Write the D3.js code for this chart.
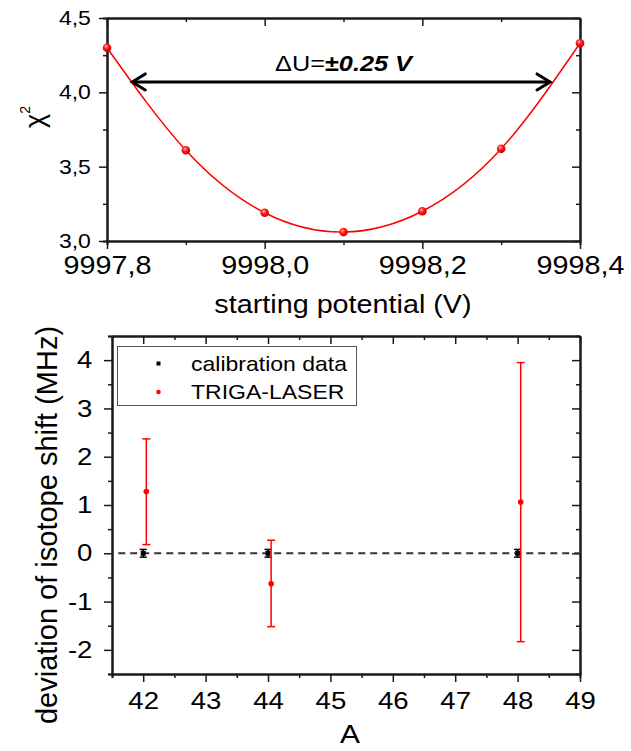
<!DOCTYPE html>
<meta charset="utf-8">
<script src="https://d3js.org/d3.v7.min.js"></script>
<style>
  body { margin: 0; background: #fff; }
  text { font-family: "Liberation Sans", Arial, sans-serif; fill: #000; }
</style>
<div id="my_dataviz"></div>
<script>

// ---- top panel: chi^2 vs starting potential
var potential = [9997.8, 9997.9, 9998.0, 9998.1, 9998.2, 9998.3, 9998.4];
var chi2      = [4.30, 3.61, 3.19, 3.06, 3.20, 3.62, 4.33];
var potTicks  = [9997.8, 9998.0, 9998.2, 9998.4];
var potMinor  = [9997.9, 9998.1, 9998.3];
var chiTicks  = [3.0, 3.5, 4.0, 4.5];
var chiMinor  = [3.25, 3.75, 4.25];
var arrowPot  = [9997.832, 9998.362];
var arrowChi  = 4.07;

// ---- bottom panel: deviation of isotope shift
var calibA    = [42, 44, 48];
var calibDev  = [0, 0, 0];
var calibErr  = [0.08, 0.08, 0.08];
var trigaA    = [42.05, 44.05, 48.05];
var trigaDev  = [1.28, -0.63, 1.06];
var trigaLow  = [0.18, -1.52, -1.83];
var trigaHigh = [2.37, 0.27, 3.95];
var aTicks    = [42, 43, 44, 45, 46, 47, 48, 49];
var aMinor    = [41.5, 42.5, 43.5, 44.5, 45.5, 46.5, 47.5, 48.5];
var devTicks  = [-2, -1, 0, 1, 2, 3, 4];
var devMinor  = [-2.5, -1.5, -0.5, 0.5, 1.5, 2.5, 3.5, 4.5];

var SX = 1.15; // the picture's text is a bit wider than tall

var svg = d3.select("#my_dataviz")
  .append("svg")
    .attr("width", 631)
    .attr("height", 751);

var defs = svg.append("defs");
var grad = defs.append("radialGradient").attr("id", "ball")
  .attr("cx", "40%").attr("cy", "35%").attr("r", "65%");
grad.append("stop").attr("offset", "0%").attr("stop-color", "#ffb0b0");
grad.append("stop").attr("offset", "45%").attr("stop-color", "#ff1a1a");
grad.append("stop").attr("offset", "100%").attr("stop-color", "#c00000");

function comma(f) {
  return function(d) { return d3.format(f)(d).replace(".", ","); };
}

// frame with outward labelled ticks on left/bottom and inward mirror ticks top/right
function frame(x, y, xt, xm, yt, ym, fx, fy, sizeX, sizeY, padX, padY) {
  var x0 = x.range()[0], x1 = x.range()[1], y0 = y.range()[0], y1 = y.range()[1];
  var g = svg.append("g");

  var bx = g.append("g").attr("transform", "translate(0," + y0 + ")")
    .call(d3.axisBottom(x).tickValues(xt).tickSize(8).tickSizeOuter(0).tickPadding(padX).tickFormat(fx));
  bx.selectAll("text").style("font-size", sizeX + "px").attr("transform", "scale(" + SX + ",1)");
  g.append("g").attr("transform", "translate(0," + y0 + ")")
    .call(d3.axisBottom(x).tickValues(xm).tickSize(4).tickFormat(""));

  var ly = g.append("g").attr("transform", "translate(" + x0 + ",0)")
    .call(d3.axisLeft(y).tickValues(yt).tickSize(8).tickSizeOuter(0).tickPadding(padY).tickFormat(fy));
  ly.selectAll("text").style("font-size", sizeY + "px").attr("transform", "scale(" + SX + ",1)");
  g.append("g").attr("transform", "translate(" + x0 + ",0)")
    .call(d3.axisLeft(y).tickValues(ym).tickSize(4).tickFormat(""));

  g.append("g").attr("transform", "translate(0," + y1 + ")")
    .call(d3.axisTop(x).tickValues(xt).tickSize(-8).tickSizeOuter(0).tickFormat(""));
  g.append("g").attr("transform", "translate(0," + y1 + ")")
    .call(d3.axisTop(x).tickValues(xm).tickSize(-4).tickSizeOuter(0).tickFormat(""));
  g.append("g").attr("transform", "translate(" + x1 + ",0)")
    .call(d3.axisRight(y).tickValues(yt).tickSize(-8).tickSizeOuter(0).tickFormat(""));
  g.append("g").attr("transform", "translate(" + x1 + ",0)")
    .call(d3.axisRight(y).tickValues(ym).tickSize(-4).tickSizeOuter(0).tickFormat(""));

  g.selectAll(".domain").attr("stroke", "#1a1a1a").attr("stroke-width", 2);
  g.selectAll(".tick line").attr("stroke", "#1a1a1a").attr("stroke-width", 1.5);
  return g;
}

function label(txt, px, py, size) {
  return svg.append("text")
    .attr("transform", "translate(" + px + "," + py + ") scale(" + SX + ",1)")
    .attr("text-anchor", "middle")
    .style("font-size", size + "px")
    .text(txt);
}

// ================= TOP =================
var x1 = d3.scaleLinear().domain([9997.8, 9998.4]).range([107, 580]);
var y1 = d3.scaleLinear().domain([3.0, 4.5]).range([241, 18]);

frame(x1, y1, potTicks, potMinor, chiTicks, chiMinor, comma(".1f"), comma(".1f"), 25, 20, 7, 6);

var pts = potential.map(function(d, i) { return [d, chi2[i]]; });

svg.append("path")
  .datum(pts)
  .attr("fill", "none")
  .attr("stroke", "#ff0000")
  .attr("stroke-width", 1.5)
  .attr("d", d3.line()
    .x(function(d) { return x1(d[0]); })
    .y(function(d) { return y1(d[1]); })
    .curve(d3.curveNatural));

svg.selectAll("ball")
  .data(pts)
  .enter()
  .append("circle")
    .attr("cx", function(d) { return x1(d[0]); })
    .attr("cy", function(d) { return y1(d[1]); })
    .attr("r", 4.3)
    .attr("fill", "url(#ball)");

// double arrow
var ax0 = x1(arrowPot[0]), ax1 = x1(arrowPot[1]), ay = y1(arrowChi);
svg.append("line")
  .attr("x1", ax0 + 1).attr("x2", ax1 - 1).attr("y1", ay).attr("y2", ay)
  .attr("stroke", "#000").attr("stroke-width", 3);
svg.append("path")
  .attr("d", "M" + (ax0 + 13) + "," + (ay - 8) + "L" + ax0 + "," + ay + "L" + (ax0 + 13) + "," + (ay + 8) +
             "M" + (ax1 - 13) + "," + (ay - 8) + "L" + ax1 + "," + ay + "L" + (ax1 - 13) + "," + (ay + 8))
  .attr("fill", "none").attr("stroke", "#000").attr("stroke-width", 3)
  .attr("stroke-linejoin", "miter").attr("stroke-linecap", "round");

var ann = svg.append("text")
  .attr("transform", "translate(" + x1(9998.1) + "," + (y1(arrowChi) - 11) + ") scale(" + SX + ",1)")
  .attr("text-anchor", "middle")
  .style("font-size", "22px");
ann.append("tspan").text("\u0394U=");
ann.append("tspan").style("font-weight", "bold").text("\u00b1");
ann.append("tspan").style("font-weight", "bold").style("font-style", "italic").text("0.25 V");

// axis titles
label("starting potential (V)", 343, 313, 25);

var chiLab = svg.append("text")
  .attr("transform", "translate(44,117) rotate(-90)")
  .attr("text-anchor", "middle")
  .style("font-size", "27px");
chiLab.append("tspan").text("\u03c7");
chiLab.append("tspan").attr("dy", -14).style("font-size", "14px").text("2");

// ================= BOTTOM =================
var x2 = d3.scaleLinear().domain([41.5, 49]).range([112, 580]);
var y2 = d3.scaleLinear().domain([-2.5, 4.5]).range([674, 336]);

frame(x2, y2, aTicks, aMinor, devTicks, devMinor, function(d) { return String(d); },
      function(d) { return String(d); }, 24, 24, 10, 9);

// zero reference
svg.append("line")
  .attr("x1", x2(41.6)).attr("x2", x2(49))
  .attr("y1", y2(0)).attr("y2", y2(0))
  .attr("stroke", "#333").attr("stroke-width", 2)
  .attr("stroke-dasharray", "7,5");

// calibration data (black)
calibA.forEach(function(a, i) {
  var cx = x2(a), lo = y2(calibDev[i] - calibErr[i]), hi = y2(calibDev[i] + calibErr[i]);
  svg.append("line").attr("x1", cx).attr("x2", cx).attr("y1", lo).attr("y2", hi)
    .attr("stroke", "#000").attr("stroke-width", 1.5);
  [lo, hi].forEach(function(yy) {
    svg.append("line").attr("x1", cx - 3.5).attr("x2", cx + 3.5).attr("y1", yy).attr("y2", yy)
      .attr("stroke", "#000").attr("stroke-width", 1.5);
  });
  svg.append("rect").attr("x", cx - 2.5).attr("y", y2(calibDev[i]) - 2.5)
    .attr("width", 5).attr("height", 5).attr("fill", "#000");
});

// TRIGA-LASER (red)
trigaA.forEach(function(a, i) {
  var cx = x2(a), lo = y2(trigaLow[i]), hi = y2(trigaHigh[i]);
  svg.append("line").attr("x1", cx).attr("x2", cx).attr("y1", lo).attr("y2", hi)
    .attr("stroke", "#ff0000").attr("stroke-width", 1.5);
  [lo, hi].forEach(function(yy) {
    svg.append("line").attr("x1", cx - 4).attr("x2", cx + 4).attr("y1", yy).attr("y2", yy)
      .attr("stroke", "#ff0000").attr("stroke-width", 1.5);
  });
  svg.append("circle").attr("cx", cx).attr("cy", y2(trigaDev[i])).attr("r", 2.8)
    .attr("fill", "#ff0000");
});

// legend
var leg = svg.append("g");
leg.append("rect").attr("x", 117.5).attr("y", 346.5).attr("width", 239).attr("height", 59)
  .attr("fill", "#fff").attr("stroke", "#555").attr("stroke-width", 1);
leg.append("rect").attr("x", 156.5).attr("y", 361.5).attr("width", 4).attr("height", 4).attr("fill", "#000");
leg.append("circle").attr("cx", 158.5).attr("cy", 392).attr("r", 2.3).attr("fill", "#ff0000");
leg.append("text").attr("transform", "translate(191,371) scale(" + SX + ",1)")
  .style("font-size", "20px").text("calibration data");
leg.append("text").attr("transform", "translate(191,399) scale(" + SX + ",1)")
  .style("font-size", "20px").text("TRIGA-LASER");

// axis titles
label("A", 350, 743, 26);

svg.append("text")
  .attr("transform", "translate(57,525) rotate(-90)")
  .attr("text-anchor", "middle")
  .style("font-size", "29px")
  .text("deviation of isotope shift (MHz)");

</script>
